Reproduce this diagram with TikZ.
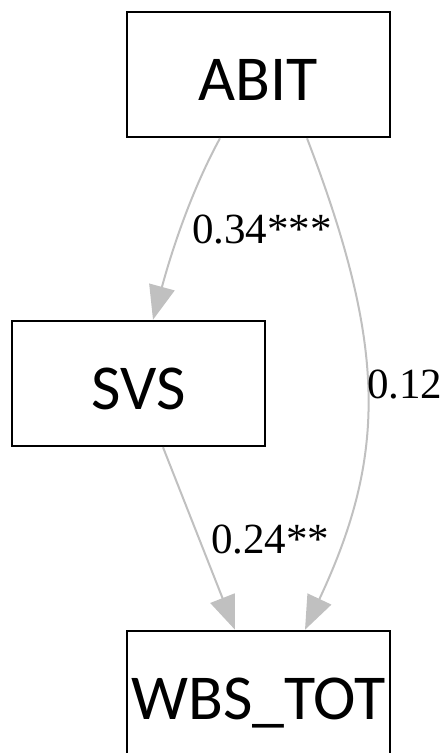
\documentclass[tikz,border=0pt]{standalone}
\usepackage{fontspec}
\setmainfont{Liberation Serif}
\newfontfamily\boxfont{Carlito}
\usetikzlibrary{arrows.meta}
\definecolor{edgegray}{HTML}{C0C0C0}
\tikzset{
  varbox/.style={draw=black, line width=2.5pt, rectangle, inner sep=0pt,
    minimum height=125pt, font=\boxfont\fontsize{64}{70}\selectfont,
    text height=51pt, text depth=0pt},
  pathedge/.style={draw=edgegray, line width=2pt,
    -{Triangle[length=34pt,width=26pt,fill=edgegray]}},
  coef/.style={anchor=base west, inner sep=0pt, font=\fontsize{43}{48}\selectfont}
}
\begin{document}
\begin{tikzpicture}[x=1pt,y=-1pt]
\useasboundingbox (0,0) rectangle (443,753);
\node[varbox, minimum width=263pt] (abit) at (258.5,74.5) {ABIT};
\node[varbox, minimum width=253pt] (svs) at (138.5,383.5) {SVS};
\node[varbox, minimum width=263pt] (wbs) at (258.5,693.5) {WBS\_TOT};
\draw[pathedge] ([xshift=-38.5pt]abit.south) .. controls (188,197) and (169,261) .. ([xshift=14.5pt]svs.north);
\draw[pathedge] ([xshift=48.5pt]abit.south) .. controls (387,347) and (387,455) .. ([xshift=46.5pt]wbs.north);
\draw[pathedge] ([xshift=24.5pt]svs.south) -- ([xshift=-23.5pt]wbs.north);
\node[coef] (l1) at (192,243) {0.34***};
\node[coef] (l2) at (367,398) {0.12};
\node[coef] (l3) at (211,553) {0.24**};
\end{tikzpicture}
\end{document}
